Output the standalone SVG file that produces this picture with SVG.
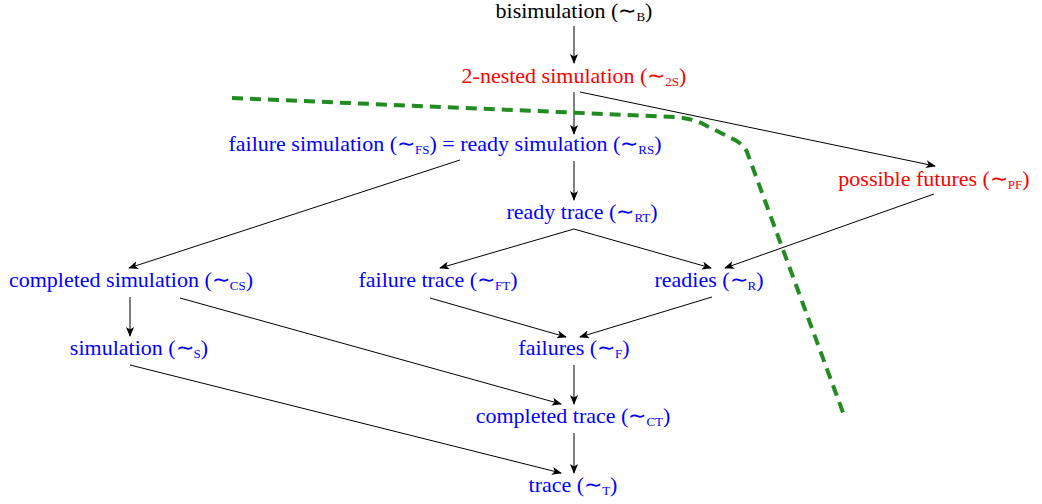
<svg xmlns="http://www.w3.org/2000/svg" width="1042" height="504" viewBox="0 0 1042 504">
<defs>
<marker id="ah" markerWidth="10" markerHeight="8" refX="9" refY="4" orient="auto" markerUnits="userSpaceOnUse">
<path d="M0,0 L10,4 L0,8 L2.5,4 Z" fill="#000"/>
</marker>
<style>
text{font-size:22px;text-anchor:middle}
.sub{font-size:13px}
.tl{font-size:22px}
.red{fill:#ff0000}
.blue{fill:#0000ff}
.blk{fill:#000}
.e{stroke:#000;stroke-width:1;fill:none;marker-end:url(#ah)}
.cut{stroke:#228b22;stroke-width:4;fill:none;stroke-dasharray:11 7}
</style>
</defs>
<g id="connectors">
<line class="e" x1="574" y1="26" x2="574" y2="63"/>
<line class="e" x1="574" y1="92" x2="574" y2="134"/>
<line class="e" x1="580" y1="92" x2="935" y2="166"/>
<line class="e" x1="574" y1="161" x2="574" y2="200"/>
<line class="e" x1="460" y1="160" x2="129" y2="268"/>
<line class="e" x1="574" y1="229" x2="440" y2="268"/>
<line class="e" x1="574" y1="229" x2="711" y2="268"/>
<line class="e" x1="934" y1="194" x2="725" y2="268"/>
<line class="e" x1="130" y1="297" x2="130" y2="336"/>
<line class="e" x1="180" y1="298" x2="561" y2="404"/>
<line class="e" x1="430" y1="298" x2="566" y2="337"/>
<line class="e" x1="712" y1="297" x2="580" y2="337"/>
<line class="e" x1="130" y1="365" x2="561" y2="473"/>
<line class="e" x1="574" y1="365" x2="574" y2="404"/>
<line class="e" x1="574" y1="433" x2="574" y2="473"/>
</g>
<path id="cut" class="cut" d="M232,98 L675,117 Q692,118 705,125 L735,140 Q744,145 747,152 L845,418"/>
<g font-family="Liberation Serif, Times New Roman, serif">
<g id="n-b"><text class="blk" x="574" y="18">bisimulation (<tspan class="tl">∼</tspan><tspan class="sub" dy="3">B</tspan><tspan dy="-3">)</tspan></text></g>
<g id="n-2s"><text class="red" x="574" y="83">2-nested simulation (<tspan class="tl">∼</tspan><tspan class="sub" dy="3">2S</tspan><tspan dy="-3">)</tspan></text></g>
<g id="n-fs"><text class="blue" x="445" y="151">failure simulation (<tspan class="tl">∼</tspan><tspan class="sub" dy="3">FS</tspan><tspan dy="-3">) = ready simulation (</tspan><tspan class="tl">∼</tspan><tspan class="sub" dy="3">RS</tspan><tspan dy="-3">)</tspan></text></g>
<g id="n-pf"><text class="red" x="934" y="186">possible futures (<tspan class="tl">∼</tspan><tspan class="sub" dy="3">PF</tspan><tspan dy="-3">)</tspan></text></g>
<g id="n-rt"><text class="blue" x="582" y="219">ready trace (<tspan class="tl">∼</tspan><tspan class="sub" dy="3">RT</tspan><tspan dy="-3">)</tspan></text></g>
<g id="n-cs"><text class="blue" x="131" y="287">completed simulation (<tspan class="tl">∼</tspan><tspan class="sub" dy="3">CS</tspan><tspan dy="-3">)</tspan></text></g>
<g id="n-ft"><text class="blue" x="438" y="287">failure trace (<tspan class="tl">∼</tspan><tspan class="sub" dy="3">FT</tspan><tspan dy="-3">)</tspan></text></g>
<g id="n-r"><text class="blue" x="709" y="287">readies (<tspan class="tl">∼</tspan><tspan class="sub" dy="3">R</tspan><tspan dy="-3">)</tspan></text></g>
<g id="n-s"><text class="blue" x="139" y="355">simulation (<tspan class="tl">∼</tspan><tspan class="sub" dy="3">S</tspan><tspan dy="-3">)</tspan></text></g>
<g id="n-f"><text class="blue" x="574" y="355">failures (<tspan class="tl">∼</tspan><tspan class="sub" dy="3">F</tspan><tspan dy="-3">)</tspan></text></g>
<g id="n-ct"><text class="blue" x="573" y="423">completed trace (<tspan class="tl">∼</tspan><tspan class="sub" dy="3">CT</tspan><tspan dy="-3">)</tspan></text></g>
<g id="n-t"><text class="blue" x="573" y="492">trace (<tspan class="tl">∼</tspan><tspan class="sub" dy="3">T</tspan><tspan dy="-3">)</tspan></text></g>
</g>
</svg>
